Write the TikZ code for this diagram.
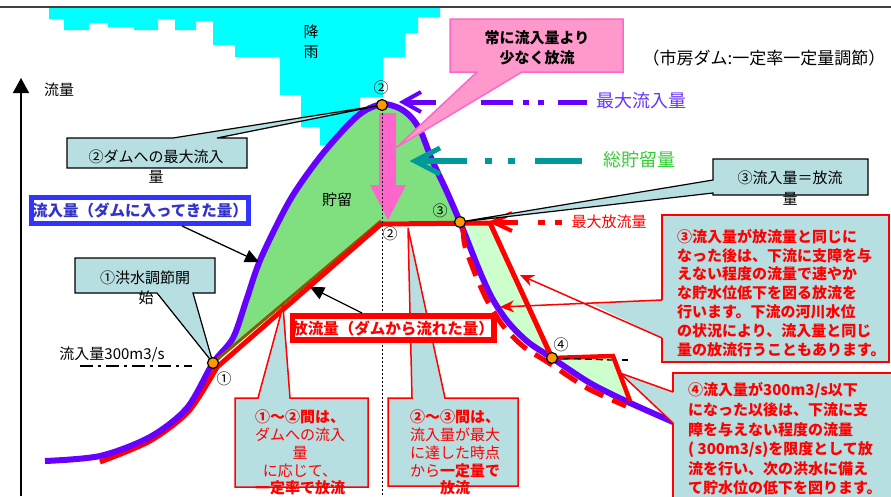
\documentclass[tikz,border=0pt]{standalone}
\usepackage{fontspec}
\setmainfont{Noto Sans CJK JP}
\usetikzlibrary{arrows.meta}
\definecolor{rain}{HTML}{00FFFF}
\definecolor{stor}{HTML}{80E080}
\definecolor{lgreen}{HTML}{CCFFCC}
\definecolor{cbl}{HTML}{B7DEE1}
\definecolor{inflow}{HTML}{6600FF}
\definecolor{teal2}{HTML}{009999}
\definecolor{gtext}{HTML}{33CC33}
\definecolor{pinkbox}{HTML}{FF99CC}
\definecolor{pinkedge}{HTML}{FF66CC}
\definecolor{orng}{HTML}{FF9900}
\definecolor{bluebox}{HTML}{3333FF}
\definecolor{bluetext}{HTML}{3333CC}
\definecolor{olive2}{HTML}{806000}
\definecolor{ptext}{HTML}{6633FF}
\tikzset{
  txt/.style={inner sep=0pt, font=\fontsize{15}{18}\selectfont},
  txtb/.style={inner sep=0pt, font=\fontsize{15}{18}\selectfont\bfseries},
  txtl/.style={inner sep=0pt, font=\fontsize{18}{21}\selectfont},
  bub/.style={fill=cbl, draw=black, line width=1.2pt},
  rbub/.style={fill=cbl, draw=red, line width=1.5pt},
  pdot/.style={circle, fill=orng, draw=black, line width=1.2pt, minimum size=11pt, inner sep=0pt},
}
\begin{document}
\begin{tikzpicture}[x=1pt,y=-1pt]
\useasboundingbox (0,0) rectangle (891,496);
% key points
\coordinate (p1) at (213,363);
\coordinate (p2) at (382,105);
\coordinate (p3) at (460,222);
\coordinate (p4) at (552,358);
\coordinate (q2) at (381,221);
% rain
\fill[rain] (49,7)--(440,7)--(440,17)--(418,17)--(418,33)--(405,33)--(405,57)--(383,57)--(383,97)--(360,97)--(360,127)--(342,127)--(342,145)--(320,145)--(320,127)--(301,127)--(301,95)--(280,95)--(280,57)--(235,57)--(235,45)--(213,45)--(213,21)--(196,21)--(196,30)--(175,30)--(175,19)--(158,19)--(158,30)--(134,30)--(134,27)--(108,27)--(108,23)--(89,23)--(89,30)--(64,30)--(64,19)--(49,19)--cycle;
\draw[line width=1.3pt, black!75] (0,7)--(891,7);
\node[txt] (rainA) at (311,32) {降};
\node[txt] (rainB) at (311,52) {雨};
% axis
\coordinate (ax0) at (21,496);
\coordinate (ax1) at (21,78);
\draw[line width=1.5pt, -{Triangle[length=15pt,width=16pt]}] (ax0)--(ax1);
\node[txt] (ylab) at (59,90) {流量};
% storage areas
\fill[stor] plot[smooth,tension=0.5] coordinates {(213,363)(233,338)(247,298)(261,258)(290,200)(320,157)(350,123)(366,110)(383,104)(399,108)(411,117)(421,132)(432,160)(447,192)(460,222)} -- (q2) -- cycle;
\fill[lgreen] (p3)--(490,222)--(p4)--(528,342)--(508,322)--(492,298)--(480,272)--(468,242)--cycle;
\fill[lgreen] (p4)--(613,357)--(630,401)--(590,383)--cycle;
% outflow before (1)
\draw[red, line width=5pt] plot[smooth,tension=0.5] coordinates {(100,462)(150,441)(189,411)(217,367)};
% inflow curve
\draw[inflow, line width=6pt] plot[smooth,tension=0.5] coordinates {(45,461)(100,456)(150,437)(187,408)(213,363)(233,338)(247,298)(261,258)(290,200)(320,157)(350,123)(366,110)(383,104)(399,108)(411,117)(421,132)(432,160)(447,192)(460,222)(468,242)(480,272)(492,298)(508,322)(528,342)(552,358)(590,383)(628,402)(680,425)};
% alternative outflow (dashed)
\draw[red, line width=5pt, dash pattern=on 20pt off 10pt] plot[smooth,tension=0.5] coordinates {(463,228)(465,246)(476,276)(488,302)(504,327)(524,347)(549,363)(587,388)(626,406)};
% outflow
\draw[olive2, line width=3pt] (p1)--(q2);
\draw[red, line width=5pt, line join=miter] (216,368)--(381,224)--(490,223)--(p4);
\draw[red, line width=4.5pt, line join=miter] (p4)--(613,356)--(630,401);
\draw[line width=1.3pt, dash pattern=on 7pt off 4pt] (p4)--(612,360);
\draw[line width=1.3pt] (622,360)--(628,360);
% 300 m3/s level
\draw[line width=1.5pt, dash pattern=on 13pt off 5pt on 3pt off 5pt] (80,366)--(192,366);
\node[txt] (l300) at (112,355) {流入量300m3/s};
% pink arrow
\fill[pinkedge] (379,113)--(396,113)--(396,185)--(406,185)--(388,220)--(370,185)--(379,185)--cycle;
% max inflow indicator
\draw[inflow, line width=5pt, dash pattern=on 32pt off 10pt on 6pt off 9pt on 6pt off 14pt] (404,102)--(587,102);
\draw[inflow, line width=4pt] (421,92)--(403,102)--(421,112);
\node[txtl, text=ptext] (maxin) at (641,101) {最大流入量};
% total storage indicator
\draw[teal2, line width=6pt] (416,161)--(467,161);
\draw[teal2, line width=6pt] (485,161)--(492,161);
\draw[teal2, line width=6pt] (508,161)--(515,161);
\draw[teal2, line width=6pt] (535,161)--(582,161);
\draw[teal2, line width=5pt] (440,148)--(415,161)--(440,174);
\node[txtl, text=gtext] (tot) at (639,160) {総貯留量};
% max outflow indicator
\draw[red, line width=5pt] (494,222)--(518,222);
\draw[red, line width=5pt] (538,222)--(545,222);
\draw[red, line width=5pt] (555,222)--(562,222);
\draw[red, line width=4pt] (512,213)--(493,222)--(512,231);
\node[txt, text=red] (maxout) at (609,222) {最大放流量};
% pink callout
\coordinate (pktip) at (397,147);
\filldraw[fill=pinkbox, draw=pinkedge, line width=1.5pt] (450,19)--(623,19)--(623,72)--(522,72)--(pktip)--(477,72)--(450,72)--cycle;
\node[txtb] (pk1) at (537,38) {常に流入量より};
\node[txtb] (pk2) at (537,58) {少なく放流};
\node[inner sep=0pt, font=\fontsize{17}{20}\selectfont] (title) at (764,58) {（市房ダム:一定率一定量調節）};
% dotted vertical
\coordinate (dotend) at (382,496);
\draw[line width=0.8pt, dash pattern=on 2pt off 2pt] (p2)--(dotend);
% black callouts
\filldraw[bub] (67,138)--(173,138)--(p2)--(217,138)--(247,138)--(247,168)--(67,168)--cycle;
\node[txt] (cA1) at (156,157) {②ダムへの最大流入};
\node[txt] (cA2) at (156,177) {量};
\filldraw[bub] (75,258)--(215,258)--(215,293)--(193,293)--(p1)--(157,293)--(75,293)--cycle;
\node[txt] (cB1) at (145,278) {①洪水調節開};
\node[txt] (cB2) at (146,298) {始};
\filldraw[bub] (713,159)--(868,159)--(868,195)--(713,195)--(713,193)--(p3)--(713,180)--cycle;
\node[txt] (cC1) at (790,178) {③流入量＝放流};
\node[txt] (cC2) at (790,199) {量};
% red callouts C and D
\coordinate (tc) at (283,306);
\coordinate (td) at (408,228);
\filldraw[rbub] (235,398)--(258,398)--(tc)--(290,398)--(368,398)--(368,487)--(235,487)--cycle;
\node[txtb, text=red] (c1a) at (300,417) {①〜②間は、};
\node[txt, text=red] (c1b) at (300,435) {ダムへの流入};
\node[txt, text=red] (c1c) at (300,453) {量};
\node[txt, text=red] (c1d) at (300,471) {に応じて、};
\node[txtb, text=red] (c1e) at (300,488) {一定率で放流};
\filldraw[rbub] (388,398)--(412,398)--(td)--(445,398)--(518,398)--(518,486)--(388,486)--cycle;
\node[txtb, text=red] (c2a) at (455,417) {②〜③間は、};
\node[txt, text=red] (c2b) at (455,435) {流入量が最大};
\node[txt, text=red] (c2c) at (455,453) {に達した時点};
\node[txt, text=red] (c2d) at (455,471) {から\textbf{一定量で}};
\node[txtb, text=red] (c2e) at (455,488) {放流};
% callout A (right)
\fill[cbl] (662,215) rectangle (889,362);
\fill[cbl] (662,300)--(590,303)--(662,338)--cycle;
\draw[red, line width=1.5pt] (662,300)--(662,215)--(889,215)--(889,362)--(662,362)--(662,338);
\coordinate (aa) at (662,300);
\coordinate (ab) at (662,338);
\coordinate (aat) at (500,307);
\coordinate (abt) at (520,275);
\draw[red, line width=1.5pt, -{Stealth[length=14pt,width=12pt]}] (aa)--(aat);
\draw[red, line width=1.5pt, -{Stealth[length=14pt,width=12pt]}] (ab)--(abt);
\node[txtb, text=red, anchor=west] (A1) at (677,237) {③流入量が放流量と同じに};
\node[txtb, text=red, anchor=west] (A2) at (677,256) {なった後は、下流に支障を与};
\node[txtb, text=red, anchor=west] (A3) at (677,274) {えない程度の流量で速やか};
\node[txtb, text=red, anchor=west] (A4) at (677,293) {な貯水位低下を図る放流を};
\node[txtb, text=red, anchor=west] (A5) at (677,312) {行います。下流の河川水位};
\node[txtb, text=red, anchor=west] (A6) at (677,331) {の状況により、流入量と同じ};
\node[txtb, text=red, anchor=west] (A7) at (677,350) {量の放流行うこともあります。};
% callout B (right bottom)
\coordinate (bt) at (620,373);
\fill[cbl] (673,373) rectangle (893,500);
\filldraw[fill=cbl, draw=red, line width=1.5pt, line join=round] (673,392)--(bt)--(673,423);
\fill[cbl] (674,390) rectangle (680,425);
\draw[red, line width=1.5pt] (673,392)--(673,373)--(893,373);
\draw[red, line width=1.5pt] (673,423)--(673,500);
\node[txtb, text=red, anchor=west] (B1) at (688,390) {④流入量が300m3/s以下};
\node[txtb, text=red, anchor=west] (B2) at (688,410) {になった以後は、下流に支};
\node[txtb, text=red, anchor=west] (B3) at (688,430) {障を与えない程度の流量};
\node[txtb, text=red, anchor=west] (B4) at (688,450) {( 300m3/s)を限度として放};
\node[txtb, text=red, anchor=west] (B5) at (688,469) {流を行い、次の洪水に備え};
\node[txtb, text=red, anchor=west] (B6) at (688,488) {て貯水位の低下を図ります。};
% label boxes
\node[draw=bluebox, fill=white, line width=5pt, minimum width=217pt, minimum height=26pt, inner sep=0pt, font=\fontsize{15.5}{18}\selectfont\bfseries, text=bluetext] (inbox) at (140,210.5) {流入量（ダムに入ってきた量）};
\node[draw=red, fill=white, line width=5.5pt, minimum width=194pt, minimum height=24pt, inner sep=0pt, font=\fontsize{15.5}{18}\selectfont\bfseries, text=red] (outbox) at (393,328) {放流量（ダムから流れた量）};
\coordinate (ia) at (182,226);
\coordinate (iat) at (259,262);
\coordinate (oa) at (362,313);
\coordinate (oat) at (310,287);
\draw[line width=1.3pt, -{Triangle[length=14pt,width=13pt]}] (ia)--(iat);
\draw[line width=1.3pt, -{Triangle[length=14pt,width=13pt]}] (oa)--(oat);
% key point markers
\node[pdot] (m1) at (p1) {};
\node[pdot] (m2) at (p2) {};
\node[pdot] (m3) at (p3) {};
\node[pdot] (m4) at (p4) {};
\node[txt] (n1) at (224,379) {①};
\node[txt] (n2) at (381,88) {②};
\node[txt] (n2b) at (390,234) {②};
\node[txt] (n3) at (440,211) {③};
\node[txt] (n4) at (561,345) {④};
\node[txt] (stlab) at (337,200) {貯留};
\end{tikzpicture}
\end{document}
